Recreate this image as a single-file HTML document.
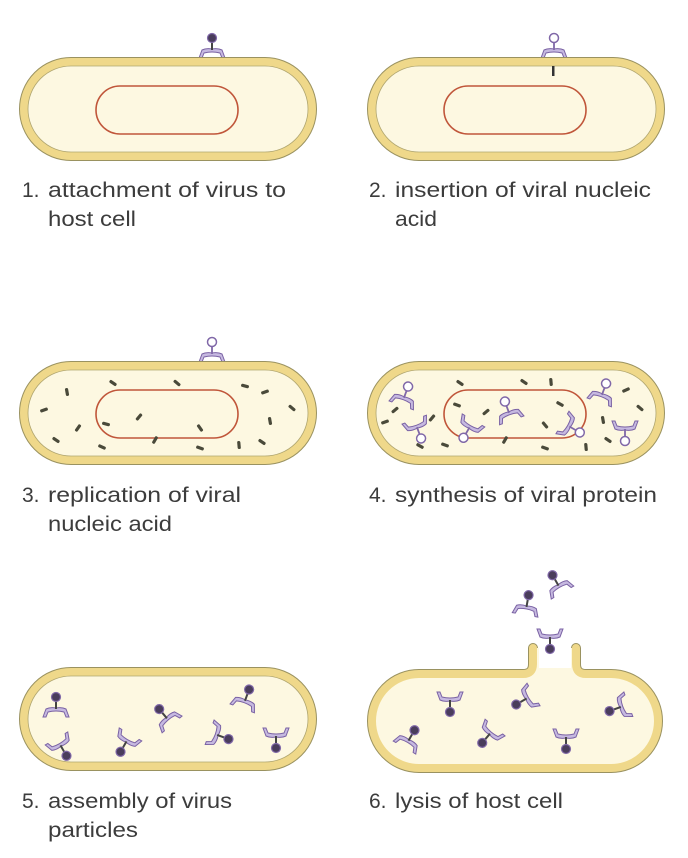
<!DOCTYPE html>
<html><head><meta charset="utf-8"><style>html,body{margin:0;padding:0;background:#fff}svg{display:block}</style></head>
<body>
<svg width="688" height="858" viewBox="0 0 688 858" xmlns="http://www.w3.org/2000/svg">
<defs>
<g id="v">
  <path d="M-13,11 L-10,3 Q-6,1 0,2 Q6,1 10,3 L13,11 L10,11 L8,6 Q4,5 0,5 Q-4,5 -8,6 L-10,11 Z" fill="#c6b9e0" stroke="#7a62a4" stroke-width="1"/>
  <line x1="0" y1="-5" x2="0" y2="3" stroke="#444" stroke-width="2"/>
  <circle cx="0" cy="-9" r="4.5" fill="#4a3d5c" stroke="#8068a8" stroke-width="1.2"/>
</g>
<g id="e">
  <path d="M-13,11 L-10,3 Q-6,1 0,2 Q6,1 10,3 L13,11 L10,11 L8,6 Q4,5 0,5 Q-4,5 -8,6 L-10,11 Z" fill="#c6b9e0" stroke="#7a62a4" stroke-width="1"/>
  <line x1="0" y1="-5" x2="0" y2="3" stroke="#8068a8" stroke-width="1.8"/>
  <circle cx="0" cy="-9" r="4.5" fill="#fff" stroke="#8068a8" stroke-width="1.5"/>
</g>
<rect id="d" x="-4" y="-1.6" width="8" height="3.2" rx="1.4" fill="#4a4a3a"/>
<g id="cap">
  <rect x="24" y="0" width="288" height="94" rx="47" fill="none" stroke="#9a9260" stroke-width="10"/>
  <rect x="24" y="0" width="288" height="94" rx="47" fill="#fdf8e1" stroke="#efd88a" stroke-width="8"/>
  <rect x="28" y="4" width="280" height="86" rx="43" fill="none" stroke="#b0a670" stroke-width="0.8"/>
</g>
</defs>

<!-- cell 1 -->
<use href="#v" x="212" y="47"/>
<use href="#cap" x="0" y="62"/>
<rect x="96" y="86" width="142" height="48" rx="24" fill="none" stroke="#c0563a" stroke-width="1.6"/>

<!-- cell 2 -->
<use href="#e" x="554" y="47"/>
<use href="#cap" x="348" y="62"/>
<rect x="444" y="86" width="142" height="48" rx="24" fill="none" stroke="#c0563a" stroke-width="1.6"/>
<rect x="552" y="66" width="2.5" height="10" fill="#333"/>

<!-- cell 3 -->
<use href="#e" x="212" y="351"/>
<use href="#cap" x="0" y="366"/>
<rect x="96" y="390" width="142" height="48" rx="24" fill="none" stroke="#c0563a" stroke-width="1.6"/>
<g>
<use href="#d" transform="translate(67,392) rotate(80)"/>
<use href="#d" transform="translate(113,383) rotate(35)"/>
<use href="#d" transform="translate(177,383) rotate(40)"/>
<use href="#d" transform="translate(245,386) rotate(15)"/>
<use href="#d" transform="translate(265,392) rotate(-20)"/>
<use href="#d" transform="translate(44,410) rotate(-20)"/>
<use href="#d" transform="translate(292,408) rotate(40)"/>
<use href="#d" transform="translate(78,428) rotate(-55)"/>
<use href="#d" transform="translate(106,424) rotate(15)"/>
<use href="#d" transform="translate(139,417) rotate(-50)"/>
<use href="#d" transform="translate(200,428) rotate(55)"/>
<use href="#d" transform="translate(270,421) rotate(80)"/>
<use href="#d" transform="translate(56,440) rotate(35)"/>
<use href="#d" transform="translate(102,447) rotate(25)"/>
<use href="#d" transform="translate(155,440) rotate(-60)"/>
<use href="#d" transform="translate(200,448) rotate(20)"/>
<use href="#d" transform="translate(239,445) rotate(85)"/>
<use href="#d" transform="translate(262,442) rotate(35)"/>
</g>

<!-- cell 4 -->
<use href="#cap" x="348" y="366"/>
<rect x="444" y="390" width="142" height="48" rx="24" fill="none" stroke="#c0563a" stroke-width="1.6"/>
<g>
<use href="#d" transform="translate(460,383) rotate(35)"/>
<use href="#d" transform="translate(524,382) rotate(35)"/>
<use href="#d" transform="translate(551,382) rotate(85)"/>
<use href="#d" transform="translate(626,390) rotate(-25)"/>
<use href="#d" transform="translate(457,405) rotate(20)"/>
<use href="#d" transform="translate(560,404) rotate(30)"/>
<use href="#d" transform="translate(395,410) rotate(-40)"/>
<use href="#d" transform="translate(640,408) rotate(40)"/>
<use href="#d" transform="translate(385,422) rotate(-20)"/>
<use href="#d" transform="translate(432,418) rotate(-50)"/>
<use href="#d" transform="translate(486,412) rotate(-40)"/>
<use href="#d" transform="translate(603,420) rotate(80)"/>
<use href="#d" transform="translate(545,425) rotate(50)"/>
<use href="#d" transform="translate(445,445) rotate(20)"/>
<use href="#d" transform="translate(505,440) rotate(-60)"/>
<use href="#d" transform="translate(545,448) rotate(20)"/>
<use href="#d" transform="translate(586,447) rotate(85)"/>
<use href="#d" transform="translate(608,440) rotate(35)"/>
<use href="#d" transform="translate(420,446) rotate(30)"/>
</g>
<use href="#e" transform="translate(405,395) rotate(20)"/>
<use href="#e" transform="translate(418,430) rotate(160)"/>
<use href="#e" transform="translate(468,430) rotate(-150)"/>
<use href="#e" transform="translate(508,410) rotate(-20)"/>
<use href="#e" transform="translate(572,428) rotate(120)"/>
<use href="#e" transform="translate(603,392) rotate(20)"/>
<use href="#e" transform="translate(625,432) rotate(180)"/>

<!-- cell 5 -->
<use href="#cap" x="0" y="672"/>
<use href="#v" transform="translate(56,706) rotate(0)"/>
<use href="#v" transform="translate(62,748) rotate(150)"/>
<use href="#v" transform="translate(125,744) rotate(-150)"/>
<use href="#v" transform="translate(165,716) rotate(-40)"/>
<use href="#v" transform="translate(220,736) rotate(110)"/>
<use href="#v" transform="translate(246,698) rotate(20)"/>
<use href="#v" transform="translate(276,739) rotate(180)"/>

<!-- cell 6 -->
<path d="M533,648 L533,664 Q533,674 523,674 L419,674 A47,47 0 0 0 419,768 L611,768 A47,47 0 0 0 611,674 L586,674 Q576,674 576,664 L576,648" fill="#fdf8e1" stroke="#9a9260" stroke-width="10" stroke-linecap="round"/>
<path d="M533,648 L533,664 Q533,674 523,674 L419,674 A47,47 0 0 0 419,768 L611,768 A47,47 0 0 0 611,674 L586,674 Q576,674 576,664 L576,648" fill="#fdf8e1" stroke="#efd88a" stroke-width="8" stroke-linecap="round"/>
<rect x="539" y="640" width="32" height="38" fill="#fff"/>
<rect x="539" y="668" width="32" height="12" fill="#fdf8e1"/>
<use href="#v" transform="translate(527,604) rotate(10)"/>
<use href="#v" transform="translate(557,583) rotate(-30)"/>
<use href="#v" transform="translate(550,640) rotate(180)"/>
<use href="#v" transform="translate(450,703) rotate(180)"/>
<use href="#v" transform="translate(410,738) rotate(30)"/>
<use href="#v" transform="translate(488,736) rotate(-140)"/>
<use href="#v" transform="translate(524,700) rotate(-120)"/>
<use href="#v" transform="translate(566,740) rotate(180)"/>
<use href="#v" transform="translate(618,708) rotate(-110)"/>

<!-- labels -->
<g font-family="Liberation Sans, sans-serif" font-size="21" fill="#3c3c3c">
<text x="22" y="197">1.</text><text x="48" y="197" textLength="238" lengthAdjust="spacingAndGlyphs">attachment of virus to</text>
<text x="48" y="226" textLength="88" lengthAdjust="spacingAndGlyphs">host cell</text>
<text x="369" y="197">2.</text><text x="395" y="197" textLength="256" lengthAdjust="spacingAndGlyphs">insertion of viral nucleic</text>
<text x="395" y="226" textLength="42" lengthAdjust="spacingAndGlyphs">acid</text>
<text x="22" y="502">3.</text><text x="48" y="502" textLength="193" lengthAdjust="spacingAndGlyphs">replication of viral</text>
<text x="48" y="531" textLength="124" lengthAdjust="spacingAndGlyphs">nucleic acid</text>
<text x="369" y="502">4.</text><text x="395" y="502" textLength="262" lengthAdjust="spacingAndGlyphs">synthesis of viral protein</text>
<text x="22" y="808">5.</text><text x="48" y="808" textLength="184" lengthAdjust="spacingAndGlyphs">assembly of virus</text>
<text x="48" y="837" textLength="90" lengthAdjust="spacingAndGlyphs">particles</text>
<text x="369" y="808">6.</text><text x="395" y="808" textLength="168" lengthAdjust="spacingAndGlyphs">lysis of host cell</text>
</g>
</svg>
</body></html>
